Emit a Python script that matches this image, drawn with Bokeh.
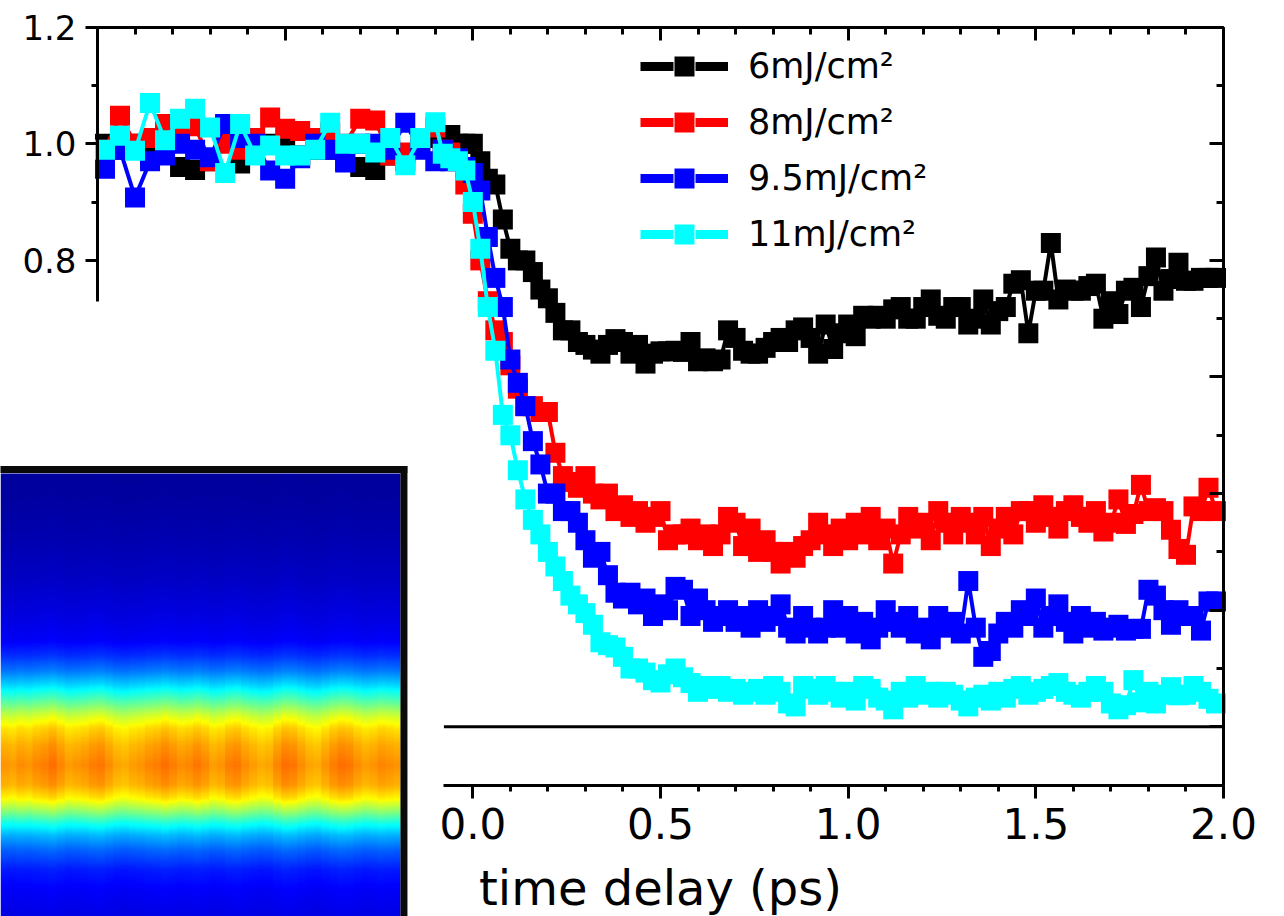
import numpy as np
from bokeh.plotting import figure
from bokeh.models import (LinearAxis, SingleIntervalTicker, PrintfTickFormatter,
                          CustomJSTickFormatter, Legend, LegendItem, ColumnDataSource,
                          Label, LinearColorMapper)
from bokeh.embed import file_html
from bokeh.resources import INLINE

# ---------------- data ----------------
# delay grid (ps): coarse sampling before time zero, fine sampling afterwards
t_pre = np.round(np.arange(-0.98, -0.095, 0.04), 2)
t_post = np.round(np.arange(-0.08, 1.985, 0.02), 2)
delay = np.concatenate([t_pre, t_post])

labels = ["6mJ/cm²", "8mJ/cm²", "9.5mJ/cm²", "11mJ/cm²"]
colors = ["#000000", "#ff0000", "#0000ff", "#00ffff"]

sig_6 = [
    1.00, 0.99, 1.00, 0.98, 0.99, 0.96, 0.955, 0.97, 1.03, 0.966, 0.99, 1.00,
    1.00, 0.98, 0.99, 0.99, 0.97, 0.96, 0.955, 0.98, 0.97, 1.00, 1.01,
    0.99, 1.015, 1.00, 1.00,
    1.00, 0.97, 0.94, 0.93, 0.87, 0.82, 0.80, 0.80, 0.78, 0.75,
    0.735, 0.71, 0.68, 0.68, 0.66, 0.655, 0.647, 0.64, 0.655, 0.665,
    0.66, 0.64, 0.655, 0.623, 0.64, 0.644, 0.644, 0.645, 0.643, 0.66,
    0.627, 0.632, 0.627, 0.63, 0.68, 0.667, 0.645, 0.64, 0.64, 0.65,
    0.66, 0.667, 0.66, 0.68, 0.685, 0.667, 0.64, 0.69, 0.648, 0.675,
    0.69, 0.67, 0.705, 0.70, 0.705, 0.70, 0.716, 0.72, 0.70, 0.70,
    0.72, 0.733, 0.705, 0.70, 0.72, 0.72, 0.69, 0.70, 0.733, 0.69,
    0.713, 0.72, 0.76, 0.766, 0.675, 0.748, 0.748, 0.83, 0.733, 0.75,
    0.748, 0.748, 0.756, 0.76, 0.70, 0.73, 0.708, 0.748, 0.753, 0.72,
    0.773, 0.805, 0.748, 0.768, 0.796, 0.765, 0.765, 0.77, 0.77, 0.77,
]

sig_8 = [
    0.99, 1.048, 1.00, 1.01, 1.034, 1.022, 1.03, 0.97, 1.00, 0.99, 1.01, 1.045,
    1.026, 1.022, 1.01, 1.02, 1.00, 1.043, 1.04, 0.98, 0.985, 1.01, 1.028,
    0.99, 0.985, 0.97, 0.93,
    0.88, 0.80, 0.73, 0.68, 0.66, 0.62, 0.58, 0.55, 0.55, 0.54,
    0.54, 0.47, 0.43, 0.42, 0.41, 0.43, 0.40, 0.39, 0.40, 0.37,
    0.38, 0.36, 0.37, 0.35, 0.36, 0.37, 0.32, 0.33, 0.33, 0.34,
    0.32, 0.33, 0.31, 0.33, 0.36, 0.35, 0.31, 0.34, 0.30, 0.32,
    0.30, 0.28, 0.30, 0.29, 0.31, 0.32, 0.35, 0.33, 0.31, 0.34,
    0.32, 0.35, 0.33, 0.36, 0.32, 0.34, 0.28, 0.33, 0.36, 0.34,
    0.35, 0.32, 0.37, 0.35, 0.33, 0.36, 0.35, 0.33, 0.36, 0.31,
    0.34, 0.36, 0.33, 0.37, 0.37, 0.35, 0.38, 0.36, 0.34, 0.37,
    0.38, 0.36, 0.35, 0.37, 0.335, 0.35, 0.39, 0.348, 0.365, 0.415,
    0.37, 0.375, 0.37, 0.338, 0.305, 0.295, 0.378, 0.37, 0.41, 0.37,
]

sig_95 = [
    0.957, 0.99, 0.908, 0.97, 0.98, 1.00, 0.99, 0.977, 1.034, 1.01, 1.00, 0.954,
    0.94, 0.975, 1.00, 0.99, 0.968, 1.00, 1.00, 0.99, 1.036, 0.99, 0.97,
    0.99, 0.97, 0.975, 0.96,
    0.95, 0.92, 0.84, 0.77, 0.72, 0.63, 0.59, 0.55, 0.49, 0.45,
    0.40, 0.40, 0.37, 0.37, 0.35, 0.32, 0.29, 0.30, 0.26, 0.23,
    0.22, 0.23, 0.21, 0.22, 0.19, 0.21, 0.20, 0.24, 0.235, 0.19,
    0.22, 0.20, 0.18, 0.19, 0.20, 0.18, 0.19, 0.17, 0.20, 0.18,
    0.19, 0.21, 0.17, 0.16, 0.19, 0.17, 0.16, 0.17, 0.20, 0.17,
    0.19, 0.16, 0.18, 0.15, 0.17, 0.20, 0.18, 0.17, 0.19, 0.16,
    0.17, 0.15, 0.19, 0.17, 0.18, 0.16, 0.25, 0.17, 0.12, 0.13,
    0.16, 0.18, 0.17, 0.20, 0.19, 0.22, 0.17, 0.19, 0.21, 0.18,
    0.16, 0.19, 0.17, 0.18, 0.165, 0.17, 0.175, 0.165, 0.168, 0.168,
    0.235, 0.225, 0.20, 0.175, 0.20, 0.19, 0.19, 0.165, 0.215, 0.215,
]

sig_11 = [
    0.99, 1.014, 0.988, 1.07, 1.006, 1.043, 1.06, 1.028, 0.95, 1.034, 0.98, 0.997,
    0.98, 0.98, 0.99, 1.036, 1.00, 1.00, 0.985, 1.01, 0.963, 1.01, 1.037,
    0.983, 0.975, 0.97, 0.954,
    0.90, 0.82, 0.72, 0.645, 0.535, 0.50, 0.44, 0.39, 0.355, 0.33,
    0.30, 0.275, 0.25, 0.225, 0.21, 0.195, 0.175, 0.145, 0.14, 0.136,
    0.12, 0.10, 0.10, 0.093, 0.08, 0.076, 0.09, 0.10, 0.085, 0.075,
    0.06, 0.07, 0.065, 0.07, 0.06, 0.065, 0.055, 0.06, 0.065, 0.055,
    0.07, 0.06, 0.04, 0.035, 0.07, 0.065, 0.055, 0.07, 0.06, 0.05,
    0.06, 0.045, 0.07, 0.065, 0.05, 0.045, 0.03, 0.06, 0.05, 0.07,
    0.055, 0.06, 0.05, 0.06, 0.055, 0.045, 0.035, 0.05, 0.055, 0.045,
    0.06, 0.05, 0.065, 0.07, 0.055, 0.06, 0.065, 0.07, 0.075, 0.06,
    0.055, 0.05, 0.06, 0.07, 0.06, 0.04, 0.03, 0.037, 0.08, 0.042,
    0.06, 0.04, 0.055, 0.068, 0.054, 0.055, 0.07, 0.06, 0.048, 0.04,
]

series = [sig_6, sig_8, sig_95, sig_11]

# beam image in the inset: vertical intensity profile (fraction of inset
# height measured from its top) and the column-to-column streak gain
beam_depth = [0.0, 0.061, 0.151, 0.242, 0.332, 0.377, 0.411, 0.445, 0.479, 0.512,
              0.546, 0.576, 0.614, 0.659, 0.704, 0.734, 0.761, 0.788, 0.817, 0.851,
              0.896, 0.941, 1.0]
beam_level = [0.03, 0.035, 0.05, 0.07, 0.10, 0.12, 0.17, 0.24, 0.34, 0.45,
              0.57, 0.65, 0.70, 0.73, 0.70, 0.63, 0.52, 0.40, 0.30, 0.22,
              0.15, 0.12, 0.10]
streak_gain = [1.00, 0.99, 1.01, 1.00, 1.02, 1.03, 1.05, 1.02, 0.99, 1.00,
               1.01, 1.03, 1.04, 1.01, 0.98, 0.97, 0.99, 1.00, 1.02, 1.03,
               1.05, 1.03, 1.01, 1.02, 1.04, 1.02, 0.99, 1.00, 1.03, 1.04,
               1.01, 0.99, 0.97, 0.98, 1.02, 1.05, 1.04, 1.01, 0.98, 0.97,
               1.00, 1.03, 1.05, 1.04, 1.01, 0.99, 1.00, 1.02, 1.01, 1.00]

# ---------------- layout constants ----------------
X_MIN, X_MAX = -1.0, 2.0          # framed time span
Y_MIN, Y_MAX = -0.1, 1.2          # framed signal span
EPS = 1e-4                        # keeps end ticks inside the spine bounds
X_VIEW = (-1.2584, 2.1625)        # whole canvas in data units
Y_VIEW = (-0.3254, 1.2458)
LEFT_AXIS_FLOOR = 0.73            # left spine stops above the inset
BOTTOM_AXIS_START = -0.077        # bottom spine starts right of the inset

INSET_X0, INSET_X1 = -1.2584, -0.1927
INSET_Y0, INSET_Y1 = -0.3254, 0.4345
INSET_EDGE_X = -0.1835
INSET_EDGE_Y = 0.4414

FONT = "DejaVu Sans"

p = figure(width=1284, height=916, x_range=X_VIEW, y_range=Y_VIEW,
           output_backend="svg", toolbar_location=None,
           x_axis_type=None, y_axis_type=None, min_border=0)
p.outline_line_color = None
p.background_fill_color = "white"
p.border_fill_color = "white"


def spine(**kw):
    base = dict(axis_line_width=3, major_tick_line_width=3, minor_tick_line_width=3,
                axis_line_color="black", major_tick_line_color="black",
                minor_tick_line_color="black")
    base.update(kw)
    return LinearAxis(**base)


blank = CustomJSTickFormatter(code="return ''")

bottom = spine(fixed_location=Y_MIN, bounds=(BOTTOM_AXIS_START, X_MAX + EPS),
               ticker=SingleIntervalTicker(interval=0.5, num_minor_ticks=5),
               formatter=PrintfTickFormatter(format="%.1f"),
               major_tick_in=0, major_tick_out=13, minor_tick_in=0, minor_tick_out=6,
               major_label_text_font=FONT, major_label_text_font_size="42px",
               major_label_text_color="black", major_label_standoff=10)
top = spine(fixed_location=Y_MAX, bounds=(X_MIN - EPS, X_MAX + EPS),
            ticker=SingleIntervalTicker(interval=0.5, num_minor_ticks=5),
            formatter=blank, major_tick_in=13, major_tick_out=0,
            minor_tick_in=7, minor_tick_out=0)
left = spine(fixed_location=X_MIN, bounds=(LEFT_AXIS_FLOOR, Y_MAX + EPS),
             ticker=SingleIntervalTicker(interval=0.2, num_minor_ticks=2),
             formatter=PrintfTickFormatter(format="%.1f"),
             major_tick_in=0, major_tick_out=12, minor_tick_in=0, minor_tick_out=6,
             major_label_text_font=FONT, major_label_text_font_size="34px",
             major_label_text_color="black", major_label_standoff=9)
right = spine(fixed_location=X_MAX, bounds=(Y_MIN - EPS, Y_MAX + EPS),
              ticker=SingleIntervalTicker(interval=0.2, num_minor_ticks=2),
              formatter=blank, major_tick_in=14, major_tick_out=0,
              minor_tick_in=7, minor_tick_out=0)
p.add_layout(bottom, "below")
p.add_layout(top, "above")
p.add_layout(left, "left")
p.add_layout(right, "right")

# zero-signal reference line
p.segment(x0=[BOTTOM_AXIS_START], y0=[0.0], x1=[X_MAX], y1=[0.0],
          line_color="black", line_width=3)

# transient curves
for sig, col in zip(series, colors):
    src = ColumnDataSource(dict(t=delay, s=np.array(sig)))
    p.line("t", "s", source=src, line_color=col, line_width=4)
    p.scatter("t", "s", source=src, marker="square", size=20,
              fill_color=col, line_color=None)

# legend entries: segment - square - segment (placeholder renderers, no visible points)
items = []
for lab, col in zip(labels, colors):
    ghost = ColumnDataSource(dict(t=[np.nan], s=[np.nan]))
    lr = p.line("t", "s", source=ghost, line_color=col, line_width=9, line_dash="33 22")
    mr = p.scatter("t", "s", source=ghost, marker="square", size=20,
                   fill_color=col, line_color=None)
    items.append(LegendItem(label=lab, renderers=[lr, mr]))

legend = Legend(items=items, location=(640, 657), orientation="vertical",
                glyph_width=88, glyph_height=50, label_height=35,
                label_standoff=20, spacing=6, padding=0, margin=0,
                border_line_color=None, background_fill_alpha=0,
                label_text_font=FONT, label_text_font_size="35px",
                label_text_color="black")
p.add_layout(legend, "center")

# x-axis title
p.add_layout(Label(x=(X_MIN + X_MAX) / 2, y=29, y_units="screen",
                   text="time delay (ps)", text_font=FONT, text_font_size="48px",
                   text_align="center", text_baseline="alphabetic",
                   text_color="black"))

# inset: beam image
n_rows = 443
depth = np.linspace(0.0, 1.0, n_rows)
profile = np.interp(depth, beam_depth, beam_level)
gain = np.repeat(np.array(streak_gain), 8)
beam = profile[:, None] * gain[None, :]
beam = beam[::-1]  # first image row is drawn at the bottom


def jet(x):
    r = np.clip(1.5 - np.abs(4 * x - 3), 0, 1)
    g = np.clip(1.5 - np.abs(4 * x - 2), 0, 1)
    b = np.clip(1.5 - np.abs(4 * x - 1), 0, 1)
    return "#%02x%02x%02x" % (int(r * 255), int(g * 255), int(b * 255))


jet_palette = [jet(v) for v in np.linspace(0, 1, 256)]
p.image(image=[beam], x=INSET_X0, y=INSET_Y0, dw=INSET_X1 - INSET_X0,
        dh=INSET_Y1 - INSET_Y0,
        color_mapper=LinearColorMapper(palette=jet_palette, low=0, high=1))
p.segment(x0=[X_VIEW[0] - 0.05, INSET_EDGE_X], y0=[INSET_EDGE_Y, INSET_EDGE_Y + 0.006],
          x1=[INSET_EDGE_X + 0.009, INSET_EDGE_X], y1=[INSET_EDGE_Y, Y_VIEW[0] - 0.05],
          line_color="#0a0a0a", line_width=7)

open("out.html", "w").write(file_html(p, INLINE))
